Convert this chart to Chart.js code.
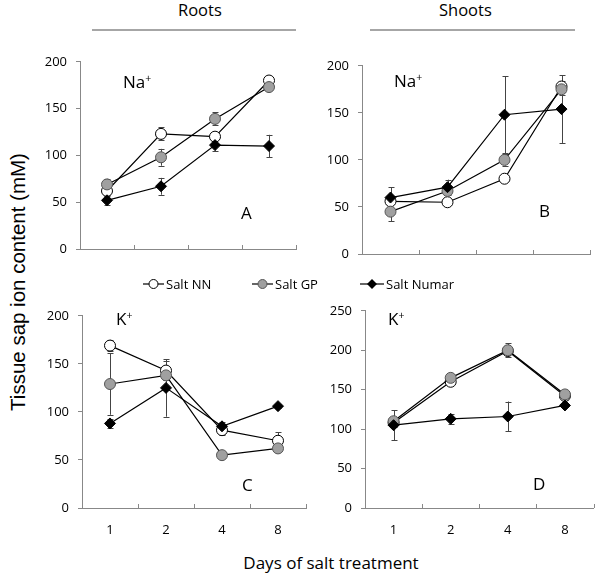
<!DOCTYPE html>
<html>
<head>
<meta charset="utf-8">
<script src="https://cdn.jsdelivr.net/npm/chart.js@4.4.1/dist/chart.umd.min.js"></script>
<style>
  html, body { margin:0; padding:0; background:#fff; }
  body { width:600px; height:576px; position:relative; overflow:hidden; font-family:"Open Sans", sans-serif; color:#000; }
  .cv { position:absolute; }
  .txt { position:absolute; white-space:nowrap; line-height:1; }
  .title { font-size:16.5px; }
  .hline { position:absolute; height:2px; background:#a6a6a6; }
  .plabel { font-size:17px; }
  .plabel sup { font-size:10.5px; vertical-align:6px; line-height:0; }
  .leg { position:absolute; top:275px; font-size:13px; display:flex; align-items:center; }
  .leg svg { margin-right:2px; }
</style>
</head>
<body>
<div class="txt title" style="left:178px; top:2px;">Roots</div>
<div class="hline" style="left:92px; width:204px; top:29px;"></div>
<div class="txt title" style="left:439px; top:2px;">Shoots</div>
<div class="hline" style="left:370px; width:205px; top:29px;"></div>

<canvas id="cA" class="cv"></canvas>
<canvas id="cB" class="cv"></canvas>
<canvas id="cC" class="cv"></canvas>
<canvas id="cD" class="cv"></canvas>

<div class="txt plabel" style="left:123px; top:73px;">Na<sup>+</sup></div>
<div class="txt plabel" style="left:241px; top:204px;">A</div>
<div class="txt plabel" style="left:394px; top:72px;">Na<sup>+</sup></div>
<div class="txt plabel" style="left:539px; top:202px;">B</div>
<div class="txt plabel" style="left:116px; top:310px;">K<sup>+</sup></div>
<div class="txt plabel" style="left:242px; top:476px;">C</div>
<div class="txt plabel" style="left:388px; top:310px;">K<sup>+</sup></div>
<div class="txt plabel" style="left:533px; top:475px;">D</div>

<div class="leg" style="left:143px;"><svg width="21" height="14"><line x1="0" y1="7" x2="21" y2="7" stroke="#000" stroke-width="1.2"/><circle cx="10.5" cy="7" r="4.5" fill="#fff" stroke="#000" stroke-width="1"/></svg><span>Salt NN</span></div>
<div class="leg" style="left:252px;"><svg width="21" height="14"><line x1="0" y1="7" x2="21" y2="7" stroke="#000" stroke-width="1.2"/><circle cx="10.5" cy="7" r="4.5" fill="#a0a0a0" stroke="#555" stroke-width="1"/></svg><span>Salt GP</span></div>
<div class="leg" style="left:360px;"><svg width="24" height="14"><line x1="0" y1="7" x2="24" y2="7" stroke="#000" stroke-width="1.2"/><polygon points="12,2 17,7 12,12 7,7" fill="#000"/></svg><span>Salt Numar</span></div>

<div class="txt" id="ylab" style="font-family:'Liberation Sans', Arial, sans-serif; font-size:20.5px; left:18px; top:282px; transform:translate(-50%,-50%) rotate(-90deg);">Tissue sap ion content (mM)</div>
<div class="txt" style="font-size:17px; left:331px; top:554px; transform:translateX(-50%);">Days of salt treatment</div>

<script>
// ---- data ----
const days = ['1', '2', '4', '8'];

const rootsNa_NN = [62, 123, 120, 180];
const rootsNa_NN_err = [4, 7, 4, 4];
const rootsNa_GP = [69, 98, 139, 173];
const rootsNa_GP_err = [6, 9, 7, 3];
const rootsNa_Numar = [52, 67, 111, 110];
const rootsNa_Numar_err = [5, 9, 6, 12];

const shootsNa_NN = [56, 55, 80, 178];
const shootsNa_NN_err = [3, 2, 2, 6];
const shootsNa_GP = [45, 67, 100, 175];
const shootsNa_GP_err = [10, 3, 6, 6];
const shootsNa_Numar = [60, 71, 148, 154];
const shootsNa_Numar_err = [11, 8, 41, 36];

const rootsK_NN = [169, 143, 81, 70];
const rootsK_NN_err = [6, 10, 5, 9];
const rootsK_GP = [129, 138, 55, 62];
const rootsK_GP_err = [32, 5, 2, 2];
const rootsK_Numar = [88, 125, 85, 106];
const rootsK_Numar_err = [5, 30, 5, 2];

const shootsK_NN = [108, 160, 199, 142];
const shootsK_NN_err = [5, 3, 3, 5];
const shootsK_GP = [110, 165, 200, 144];
const shootsK_GP_err = [5, 3, 9, 4];
const shootsK_Numar = [105, 113, 116, 130];
const shootsK_Numar_err = [19, 6, 19, 2];

const seriesNames = ['Salt NN', 'Salt GP', 'Salt Numar'];
const yTickStep = 50;

// ---- plugins ----
const errorBars = {
  id: 'errorBars',
  beforeDatasetsDraw(chart) {
    const ctx = chart.ctx, y = chart.scales.y;
    ctx.save();
    chart.data.datasets.forEach((ds, i) => {
      const meta = chart.getDatasetMeta(i);
      (ds.errors || []).forEach((e, j) => {
        if (!e) return;
        const pt = meta.data[j];
        const x = Math.round(pt.x);
        const top = y.getPixelForValue(ds.data[j] + e);
        const bot = y.getPixelForValue(ds.data[j] - e);
        ctx.strokeStyle = '#444';
        ctx.lineWidth = 1;
        ctx.beginPath();
        ctx.moveTo(x + 0.5, top); ctx.lineTo(x + 0.5, bot);
        ctx.moveTo(x - 2.5, Math.round(top) + 0.5); ctx.lineTo(x + 3.5, Math.round(top) + 0.5);
        ctx.moveTo(x - 2.5, Math.round(bot) + 0.5); ctx.lineTo(x + 3.5, Math.round(bot) + 0.5);
        ctx.stroke();
      });
    });
    ctx.restore();
  }
};
const xTicksInward = {
  id: 'xTicksInward',
  afterDraw(chart) {
    const ctx = chart.ctx, xs = chart.scales.x, a = chart.chartArea;
    ctx.save();
    ctx.strokeStyle = '#888';
    ctx.lineWidth = 1;
    ctx.beginPath();
    const n = xs.ticks.length;
    const step = xs.getPixelForTick(1) - xs.getPixelForTick(0);
    for (let i = 0; i <= n; i++) {
      const px = Math.round(xs.getPixelForTick(0) + (i - 0.5) * step) + 0.5;
      ctx.moveTo(px, a.bottom); ctx.lineTo(px, a.bottom - 4);
    }
    ctx.stroke();
    ctx.restore();
  }
};

function makePanel(id, geo, yMax, nn, nnErr, gp, gpErr, nu, nuErr, showX) {
  const padL = 50, padT = 12, padB = 34;
  const padR = Math.min(8, 600 - geo.right);
  const cv = document.getElementById(id);
  const w = (geo.right - geo.left) + padL + padR;
  const h = (geo.bottom - geo.top) + padT + padB;
  cv.style.left = (geo.left - padL) + 'px';
  cv.style.top = (geo.top - padT) + 'px';
  cv.width = w; cv.height = h;
  cv.style.width = w + 'px'; cv.style.height = h + 'px';
  const common = { borderColor: '#000', borderWidth: 1.2, pointBorderWidth: 1, tension: 0 };
  new Chart(cv, {
    type: 'line',
    data: {
      labels: days,
      datasets: [
        Object.assign({ label: seriesNames[2], data: nu, errors: nuErr, pointStyle: 'rectRot', pointRadius: 5.5, pointBackgroundColor: '#000', pointBorderColor: '#000', order: 1 }, common),
        Object.assign({ label: seriesNames[1], data: gp, errors: gpErr, pointStyle: 'circle', pointRadius: 5.5, pointBackgroundColor: '#a0a0a0', pointBorderColor: '#555', order: 2 }, common),
        Object.assign({ label: seriesNames[0], data: nn, errors: nnErr, pointStyle: 'circle', pointRadius: 5.5, pointBackgroundColor: '#fff', pointBorderColor: '#000', order: 3 }, common)
      ]
    },
    options: {
      responsive: false, animation: false,
      devicePixelRatio: 1,
      layout: { padding: { left: 0, right: padR, top: padT, bottom: 0 } },
      plugins: { legend: { display: false }, tooltip: { enabled: false } },
      scales: {
        x: {
          offset: true,
          grid: { display: false },
          border: { display: true, color: '#888', width: 1 },
          ticks: { display: showX, color: '#000', font: { family: 'Open Sans', size: 13 }, padding: 6, maxRotation: 0 },
          afterFit(s) { s.height = padB; }
        },
        y: {
          min: 0, max: yMax,
          grid: { display: true, drawOnChartArea: false, drawTicks: true, tickLength: 4, color: '#888' },
          border: { display: true, color: '#888', width: 1 },
          ticks: { stepSize: yTickStep, color: '#000', font: { family: 'Open Sans', size: 13 }, padding: 9 },
          afterFit(s) { s.width = padL; }
        }
      }
    },
    plugins: [errorBars, xTicksInward]
  });
}

makePanel('cA', { left: 80, right: 296, top: 57, bottom: 249 }, 200, rootsNa_NN, rootsNa_NN_err, rootsNa_GP, rootsNa_GP_err, rootsNa_Numar, rootsNa_Numar_err, false);
makePanel('cB', { left: 362, right: 590, top: 61, bottom: 254 }, 200, shootsNa_NN, shootsNa_NN_err, shootsNa_GP, shootsNa_GP_err, shootsNa_Numar, shootsNa_Numar_err, false);
makePanel('cC', { left: 82, right: 306, top: 311, bottom: 508 }, 200, rootsK_NN, rootsK_NN_err, rootsK_GP, rootsK_GP_err, rootsK_Numar, rootsK_Numar_err, true);
makePanel('cD', { left: 365, right: 599, top: 306, bottom: 508 }, 250, shootsK_NN, shootsK_NN_err, shootsK_GP, shootsK_GP_err, shootsK_Numar, shootsK_Numar_err, true);
</script>
</body>
</html>
